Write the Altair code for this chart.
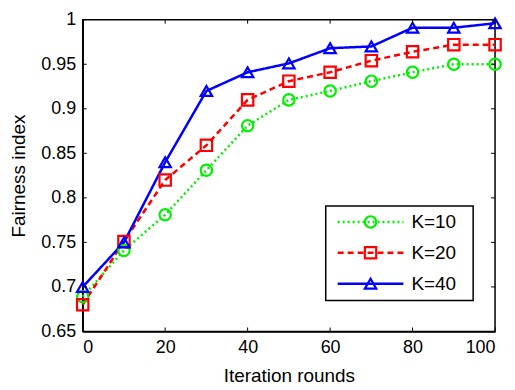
import altair as alt
import pandas as pd

rounds = [0, 10, 20, 30, 40, 50, 60, 70, 80, 90, 100]
k10 = [0.689, 0.741, 0.781, 0.831, 0.881, 0.910, 0.920, 0.931, 0.941, 0.950, 0.950]
k20 = [0.680, 0.751, 0.820, 0.859, 0.910, 0.931, 0.941, 0.954, 0.964, 0.972, 0.972]
k40 = [0.700, 0.750, 0.840, 0.920, 0.941, 0.951, 0.968, 0.970, 0.991, 0.991, 0.996]
series_names = ["K=10", "K=20", "K=40"]
series_colors = ["#00f000", "#ff0000", "#0000ff"]
series_dash = [[2, 3], [6, 4], [1, 0]]
series_shapes = ["circle", "square", "triangle-up"]
x_ticks = [0, 20, 40, 60, 80, 100]
y_ticks = [0.65, 0.7, 0.75, 0.8, 0.85, 0.9, 0.95, 1.0]

W, H = 414, 313
FONT = "Liberation Sans"

rows = []
for name, vals in zip(series_names, [k10, k20, k40]):
    for r, v in zip(rounds, vals):
        rows.append({"round": r, "value": v, "series": name})
df = pd.DataFrame(rows)

xsc = alt.Scale(domain=[0, 100], nice=False)
ysc = alt.Scale(domain=[0.65, 1.0], nice=False, zero=False)
csc = alt.Scale(domain=series_names, range=series_colors)
dsc = alt.Scale(domain=series_names, range=series_dash)
ssc = alt.Scale(domain=series_names, range=series_shapes)

X = alt.X("round:Q", scale=xsc, title="Iteration rounds",
          axis=alt.Axis(values=x_ticks, tickSize=0, labelPadding=7, grid=False,
                        titlePadding=10, domainColor="black"))
Y = alt.Y("value:Q", scale=ysc, title="Fairness index",
          axis=alt.Axis(values=y_ticks, format="~g", tickSize=0, labelPadding=7,
                        grid=False, titlePadding=12, domainColor="black"))

base = alt.Chart(df)
lines = base.mark_line(strokeWidth=2.5).encode(
    x=X, y=Y,
    color=alt.Color("series:N", scale=csc, legend=None),
    strokeDash=alt.StrokeDash("series:N", scale=dsc, legend=None),
)
points = base.mark_point(filled=False, size=130, strokeWidth=2.2, opacity=1).encode(
    x=alt.X("round:Q", scale=xsc), y=alt.Y("value:Q", scale=ysc),
    color=alt.Color("series:N", scale=csc, legend=None),
    shape=alt.Shape("series:N", scale=ssc, legend=None),
)

xt = alt.Chart(pd.DataFrame({"t": x_ticks}))
yt = alt.Chart(pd.DataFrame({"t": y_ticks}))
tick_b = xt.mark_rule(color="black").encode(x=alt.X("t:Q", scale=xsc), y=alt.value(H), y2=alt.value(H - 4))
tick_t = xt.mark_rule(color="black").encode(x=alt.X("t:Q", scale=xsc), y=alt.value(0), y2=alt.value(4))
tick_l = yt.mark_rule(color="black").encode(y=alt.Y("t:Q", scale=ysc), x=alt.value(0), x2=alt.value(4))
tick_r = yt.mark_rule(color="black").encode(y=alt.Y("t:Q", scale=ysc), x=alt.value(W), x2=alt.value(W - 4))

main = alt.layer(lines, points, tick_b, tick_t, tick_l, tick_r)

# legend box
leg_df = pd.DataFrame({"series": series_names, "idx": [0, 1, 2]})
lysc = alt.Scale(domain=[0, 2], range=[203, 265], nice=False, zero=False)
LY = alt.Y("idx:Q", scale=lysc, axis=None)
leg_box = alt.Chart(pd.DataFrame({"a": [0]})).mark_rect(
    fill="white", stroke="black", strokeWidth=1.5
).encode(x=alt.value(244), x2=alt.value(392), y=alt.value(187), y2=alt.value(282))
lb = alt.Chart(leg_df)
leg_line = lb.mark_rule(strokeWidth=2.5).encode(
    x=alt.value(256), x2=alt.value(322), y=LY,
    color=alt.Color("series:N", scale=csc, legend=None),
    strokeDash=alt.StrokeDash("series:N", scale=dsc, legend=None),
)
leg_pt = lb.mark_point(filled=False, size=130, strokeWidth=2.2, opacity=1).encode(
    x=alt.value(289), y=LY,
    color=alt.Color("series:N", scale=csc, legend=None),
    shape=alt.Shape("series:N", scale=ssc, legend=None),
)
leg_txt = lb.mark_text(align="left", baseline="middle", fontSize=19, font=FONT, color="black").encode(
    x=alt.value(330), y=LY, text="series:N"
)
legend = alt.layer(leg_box, leg_line, leg_pt, leg_txt)

chart = alt.layer(main, legend).resolve_scale(y="independent").properties(
    width=W, height=H,
    autosize=alt.AutoSizeParams(type="none"),
    padding={"left": 75, "top": 11, "right": 12, "bottom": 58},
).configure_view(stroke="black", strokeWidth=1.5).configure_axis(
    labelFont=FONT, titleFont=FONT, labelFontSize=18, titleFontSize=19,
    labelColor="black", titleColor="black", titleFontWeight="normal",
    domainWidth=1.5,
)

chart.save("out.html", embed_options={"renderer": "svg", "actions": False})
